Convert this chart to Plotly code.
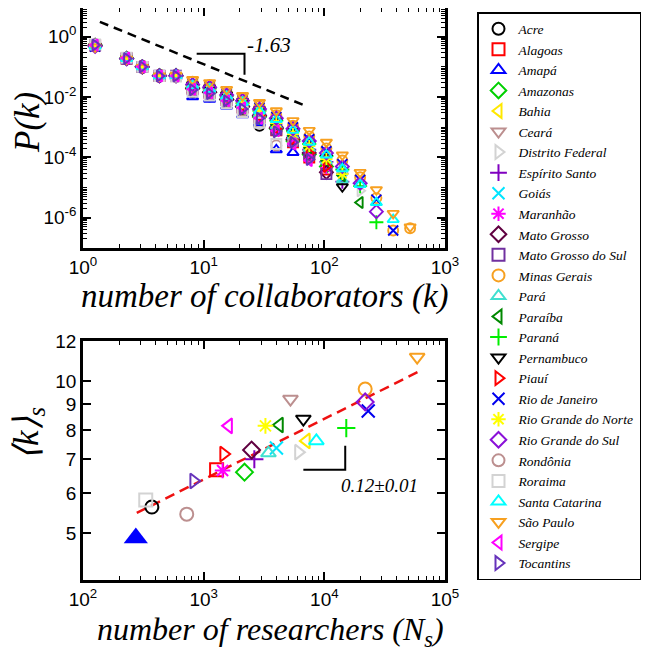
import plotly.graph_objects as go

# the page draws the figure 8 px in from the top-left corner
OFF = 8
W, H = 661 - OFF, 653 - OFF


def px(x):
    return (x - OFF) / W


def py(y):
    return 1 - (y - OFF) / H


# ---------------- data ----------------
STATES = ["Acre", "Alagoas", "Amapá", "Amazonas", "Bahia", "Ceará", "Distrito Federal",
          "Espírito Santo", "Goiás", "Maranhão", "Mato Grosso", "Mato Grosso do Sul",
          "Minas Gerais", "Pará", "Paraíba", "Paraná", "Pernambuco", "Piauí",
          "Rio de Janeiro", "Rio Grande do Norte", "Rio Grande do Sul", "Rondônia",
          "Roraima", "Santa Catarina", "São Paulo", "Sergipe", "Tocantins"]

COLORS = ["#000000", "#FF0000", "#0000FF", "#00D000", "#FFE800", "#BC8F8F", "#D3D3D3",
          "#8000C0", "#00E5FF", "#FF00FF", "#600040", "#7030A0",
          "#F7A020", "#40E0D0", "#008800", "#00EE00", "#000000", "#FF0000",
          "#0000EE", "#FFFF00", "#8A10D8", "#BC8F8F",
          "#D3D3D3", "#00FFFF", "#F7A020", "#FF00FF", "#6633BB"]

SYMBOLS = ["circle-open", "square-open", "triangle-up-open", "diamond-open", "triangle-left-open",
           "triangle-down-open", "triangle-right-open", "cross-thin-open", "x-thin-open",
           "asterisk-open", "diamond-open", "square-open", "circle-open", "triangle-up-open",
           "triangle-left-open", "cross-thin-open", "triangle-down-open", "triangle-right-open",
           "x-thin-open", "asterisk-open", "diamond-open", "circle-open", "square-open",
           "triangle-up-open", "triangle-down-open", "triangle-left-open", "triangle-right-open"]

# log-binned k (number of collaborators)
K_BINS = [1.26, 2.3, 3.1, 4.3, 5.9, 8.1, 11.2, 15.5, 21, 29, 40, 55, 75, 104, 141, 198, 270, 372, 514]

P_ACRE = [0.55, 0.20, 0.10, 0.050, 0.048, 1.41e-2, 1.05e-2, 6.3e-3, 4.0e-3, 1.12e-3]
P_ALAGOAS = [0.52, 0.19, 0.10, 0.050, 0.050, 1.9e-2, 1.38e-2, 7.9e-3, 4.5e-3, 2.1e-3, 7.9e-4, 3.2e-4, 1.0e-4, 4.0e-5]
P_AMAPA = [0.56, 0.20, 0.10, 0.049, 0.047, 1.02e-2, 8.5e-3, 5.0e-3, 2.6e-3, 1.41e-3, 1.8e-4, 1.45e-4]
P_AMAZONAS = [0.52, 0.19, 0.10, 0.051, 0.052, 2.0e-2, 1.45e-2, 8.3e-3, 4.8e-3, 2.2e-3, 8.9e-4, 3.5e-4, 1.26e-4, 5.0e-5]
P_BAHIA = [0.50, 0.19, 0.10, 0.052, 0.051, 2.4e-2, 1.86e-2, 1.12e-2, 6.6e-3, 3.5e-3, 1.41e-3, 6.6e-4, 2.6e-4, 1.05e-4, 2.8e-5]
P_CEARA = [0.50, 0.19, 0.10, 0.051, 0.050, 2.5e-2, 1.9e-2, 1.12e-2, 6.8e-3, 3.7e-3, 1.5e-3, 6.3e-4, 2.5e-4, 9.5e-5, 2.5e-5]
P_DF = [0.49, 0.19, 0.10, 0.051, 0.051, 2.2e-2, 1.7e-2, 1.0e-2, 6.0e-3, 3.3e-3, 1.32e-3, 6.0e-4, 2.4e-4, 8.9e-5, 2.8e-5, 7.9e-6]
P_ES = [0.51, 0.19, 0.10, 0.051, 0.051, 2.0e-2, 1.5e-2, 8.9e-3, 5.2e-3, 2.6e-3, 1.0e-3, 4.5e-4, 1.8e-4, 7.1e-5, 1.58e-5]
P_GOIAS = [0.50, 0.19, 0.10, 0.051, 0.051, 2.2e-2, 1.74e-2, 1.02e-2, 6.0e-3, 3.2e-3, 1.26e-3, 5.6e-4, 2.2e-4, 8.9e-5, 2.0e-5]
P_MARANHAO = [0.52, 0.19, 0.10, 0.051, 0.050, 2.0e-2, 1.48e-2, 8.3e-3, 4.8e-3, 2.4e-3, 8.9e-4, 3.5e-4, 1.12e-4, 4.5e-5]
P_MT = [0.52, 0.19, 0.10, 0.051, 0.050, 1.9e-2, 1.45e-2, 8.3e-3, 4.8e-3, 2.4e-3, 9.5e-4, 4.0e-4, 1.41e-4, 3.2e-5]
P_MS = [0.52, 0.19, 0.10, 0.051, 0.051, 1.82e-2, 1.38e-2, 7.9e-3, 4.6e-3, 2.2e-3, 8.3e-4, 3.5e-4, 1.26e-4, 2.8e-5]
P_MG = [0.47, 0.18, 0.097, 0.050, 0.052, 3.2e-2, 2.5e-2, 1.4e-2, 8.9e-3, 5.0e-3, 2.5e-3, 1.12e-3, 5.0e-4, 2.0e-4, 7.9e-5, 2.2e-5, 4.5e-6, 3.8e-7, 4.5e-7]
P_PARA = [0.51, 0.19, 0.10, 0.051, 0.051, 2.1e-2, 1.58e-2, 9.3e-3, 5.5e-3, 2.8e-3, 1.12e-3, 5.0e-4, 2.0e-4, 7.9e-5, 1.8e-5]
P_PARAIBA = [0.51, 0.19, 0.10, 0.051, 0.050, 2.1e-2, 1.58e-2, 9.5e-3, 5.6e-3, 3.0e-3, 1.2e-3, 5.2e-4, 2.1e-4, 7.9e-5, 2.5e-5, 3.2e-6]
P_PARANA = [0.49, 0.19, 0.10, 0.051, 0.050, 2.4e-2, 1.9e-2, 1.07e-2, 6.3e-3, 3.5e-3, 1.66e-3, 7.6e-4, 2.8e-4, 1.12e-4, 4.0e-5, 1.12e-5, 7.1e-7]
P_PE = [0.50, 0.19, 0.10, 0.051, 0.051, 2.5e-2, 2.0e-2, 1.17e-2, 7.1e-3, 3.8e-3, 1.58e-3, 7.1e-4, 2.8e-4, 1.0e-4, 1.07e-5]
P_PIAUI = [0.52, 0.19, 0.10, 0.050, 0.050, 1.9e-2, 1.41e-2, 8.3e-3, 5.0e-3, 2.4e-3, 8.9e-4, 4.0e-4, 1.41e-4, 5.0e-5]
P_RJ = [0.47, 0.185, 0.098, 0.050, 0.051, 2.8e-2, 2.2e-2, 1.26e-2, 7.9e-3, 4.5e-3, 2.2e-3, 1.0e-3, 4.0e-4, 1.6e-4, 6.0e-5, 1.8e-5, 4.0e-6, 3.8e-7]
P_RN = [0.51, 0.195, 0.10, 0.052, 0.051, 2.3e-2, 1.8e-2, 1.05e-2, 6.3e-3, 3.4e-3, 1.38e-3, 6.0e-4, 2.4e-4, 8.9e-5, 2.8e-5]
P_RS = [0.48, 0.185, 0.10, 0.050, 0.051, 2.6e-2, 2.1e-2, 1.17e-2, 7.6e-3, 4.0e-3, 2.0e-3, 8.9e-4, 3.5e-4, 1.4e-4, 5.0e-5, 1.4e-5, 1.6e-6]
P_RO = [0.54, 0.195, 0.10, 0.050, 0.049, 1.58e-2, 1.2e-2, 6.6e-3, 3.5e-3, 1.41e-3, 2.5e-4, 3.2e-4]
P_RR = [0.55, 0.20, 0.10, 0.050, 0.048, 1.5e-2, 1.12e-2, 6.3e-3, 3.2e-3, 1.41e-3, 2.8e-4]
P_SC = [0.49, 0.19, 0.10, 0.051, 0.052, 2.4e-2, 1.8e-2, 1.05e-2, 6.6e-3, 3.5e-3, 1.8e-3, 7.9e-4, 3.2e-4, 1.2e-4, 4.2e-5, 1.26e-5, 3.2e-6, 8.7e-7]
P_SP = [0.46, 0.18, 0.095, 0.050, 0.053, 3.8e-2, 3.0e-2, 1.8e-2, 1.12e-2, 6.6e-3, 3.5e-3, 1.66e-3, 7.9e-4, 3.2e-4, 1.2e-4, 3.2e-5, 8.5e-6, 1.4e-6, 5.0e-7]
P_SE = [0.53, 0.195, 0.10, 0.050, 0.050, 1.82e-2, 1.38e-2, 7.6e-3, 4.4e-3, 2.0e-3, 7.6e-4, 2.8e-4, 7.9e-5]
P_TO = [0.53, 0.19, 0.10, 0.050, 0.050, 1.74e-2, 1.32e-2, 7.6e-3, 4.0e-3, 2.0e-3, 7.1e-4, 3.2e-4, 8.5e-5]

P_ALL = [P_ACRE, P_ALAGOAS, P_AMAPA, P_AMAZONAS, P_BAHIA, P_CEARA, P_DF, P_ES, P_GOIAS,
         P_MARANHAO, P_MT, P_MS, P_MG, P_PARA, P_PARAIBA, P_PARANA, P_PE, P_PIAUI, P_RJ,
         P_RN, P_RS, P_RO, P_RR, P_SC, P_SP, P_SE, P_TO]

# number of researchers per state and mean degree (None: not shown)
N_S = [372, 1280, 274, 2180, 7100, 5240, 6100, 2630, 4010, 1435, 2495, None, 21800, 3444,
       4250, 15200, 6700, 1463, 23100, 3250, 21800, 724, 331, 8590, 58800, 1610, 826]
K_S = [5.63, 6.67, 4.89, 6.60, 7.61, 9.21, 7.23, 7.00, 7.37, 6.65, 7.30, None, 9.64, 7.20,
       8.18, 8.07, 8.41, 7.17, 8.72, 8.15, 9.09, 5.45, 5.81, 7.61, 11.15, 8.15, 6.34]

# guide lines (endpoints)
GUIDE_K = [1.38, 70]
GUIDE_P = [3.1, 5.1e-3]
TRI_K = [8.75, 21.8, 21.8]
TRI_P = [0.274, 0.274, 0.055]
FIT_N = [279, 60000]
FIT_K = [5.48, 10.43]
TRI2_N = [6700, 14900, 14900]
TRI2_K = [6.67, 6.67, 7.44]

# ---------------- figure ----------------
fig = go.Figure()

for name, col, sym, p in zip(STATES, COLORS, SYMBOLS, P_ALL):
    fig.add_trace(go.Scatter(
        x=K_BINS[:len(p)], y=p, mode="markers", name=name, legendgroup=name,
        marker=dict(symbol=sym, size=10, color=col, line=dict(width=1.9, color=col)),
        xaxis="x", yaxis="y"))

fig.add_trace(go.Scatter(x=GUIDE_K, y=GUIDE_P, mode="lines", showlegend=False,
                         line=dict(color="black", width=2.5, dash="9px,6px"), xaxis="x", yaxis="y"))
fig.add_trace(go.Scatter(x=TRI_K, y=TRI_P, mode="lines", showlegend=False,
                         line=dict(color="black", width=2), xaxis="x", yaxis="y"))

fig.add_trace(go.Scatter(x=FIT_N, y=FIT_K, mode="lines", showlegend=False,
                         line=dict(color="#EE1111", width=2.5, dash="10px,6px"), xaxis="x2", yaxis="y2"))
fig.add_trace(go.Scatter(x=TRI2_N, y=TRI2_K, mode="lines", showlegend=False,
                         line=dict(color="black", width=2), xaxis="x2", yaxis="y2"))

for name, col, sym, n, k in zip(STATES, COLORS, SYMBOLS, N_S, K_S):
    if n is None:
        continue
    if name == "Amapá":
        mk = dict(symbol="triangle-up", size=21, color=col, line=dict(width=0))
    else:
        mk = dict(symbol=sym, size=13, color=col, line=dict(width=2, color=col))
    fig.add_trace(go.Scatter(x=[n], y=[k], mode="markers", name=name, legendgroup=name,
                             showlegend=False, marker=mk, xaxis="x2", yaxis="y2"))

tick_font = dict(family="Liberation Sans, Arial, sans-serif", size=19, color="black")
common = dict(showline=True, linecolor="black", linewidth=2.5, mirror="ticks", ticks="inside",
              ticklen=8, tickwidth=1.5, tickcolor="black", showgrid=False, zeroline=False,
              tickfont=tick_font, type="log", automargin=False)

minor_x = [m * 10 ** e for e in range(0, 5) for m in range(2, 10)]
minor_y = [m * 10.0 ** e for e in range(-7, 1) for m in range(1, 10)]

serif = "Liberation Serif, Times New Roman, serif"
xd = [px(83), px(445)]
fig.update_layout(
    template="none",
    width=W, height=H, margin=dict(l=0, r=0, t=0, b=0, autoexpand=False),
    paper_bgcolor="white", plot_bgcolor="white",
    xaxis=dict(**common, domain=xd, anchor="y", range=[0, 3],
               tickvals=[1, 10, 100, 1000],
               ticktext=["10<sup>0</sup>", "10<sup>1</sup>", "10<sup>2</sup>", "10<sup>3</sup>"],
               minor=dict(tickvals=minor_x, ticks="inside", ticklen=4, tickwidth=1.2, tickcolor="black")),
    yaxis=dict(**common, domain=[py(248), 1], anchor="x", range=[-7, 0.95],
               tickvals=[1, 1e-2, 1e-4, 1e-6],
               ticktext=["10<sup>0</sup>", "10<sup>-2</sup>", "10<sup>-4</sup>", "10<sup>-6</sup>"],
               minor=dict(tickvals=minor_y, ticks="inside", ticklen=4, tickwidth=1.2, tickcolor="black")),
    xaxis2=dict(**common, domain=xd, anchor="y2", range=[2, 5],
                tickvals=[100, 1000, 10000, 100000],
                ticktext=["10<sup>2</sup>", "10<sup>3</sup>", "10<sup>4</sup>", "10<sup>5</sup>"],
                minor=dict(tickvals=[v for v in minor_x if v >= 100], ticks="inside", ticklen=4,
                           tickwidth=1.2, tickcolor="black")),
    yaxis2=dict(**common, domain=[py(580), py(341)], anchor="x2", range=[0.606, 1.0792],
                tickvals=[5, 6, 7, 8, 9, 10, 12], ticktext=["5", "6", "7", "8", "9", "10", "12"]),
    legend=dict(x=px(477), y=py(12), xanchor="left", yanchor="top",
                bordercolor="black", borderwidth=1.5, bgcolor="white",
                font=dict(family=serif, size=13.5, color="black", style="italic"),
                itemsizing="constant", tracegroupgap=0),
)

ann = [
    dict(x=px(265), y=py(296), text="number of collaborators (k)", font_size=33),
    dict(x=px(270), y=py(631), text="number of researchers (N<sub>s</sub>)", font_size=32),
    dict(x=px(28), y=py(123), text="P(k)", font_size=35, textangle=-90),
    dict(x=px(28), y=py(434), text="⟨k⟩<sub>s</sub>", font_size=35, textangle=-90),
]
for a in ann:
    fs = a.pop("font_size")
    fig.add_annotation(**a, xref="paper", yref="paper", showarrow=False,
                       xanchor="center", yanchor="middle",
                       font=dict(family=serif, size=fs, color="black", style="italic"))

fig.add_annotation(x=1.545, y=-0.265, xref="x", yref="y", text="-1.63", showarrow=False,
                   font=dict(family=serif, size=21, color="black", style="italic"))
fig.add_annotation(x=4.455, y=0.794, xref="x2", yref="y2", text="0.12±0.01", showarrow=False,
                   font=dict(family=serif, size=19, color="black", style="italic"))

fig.write_html("out.html")
